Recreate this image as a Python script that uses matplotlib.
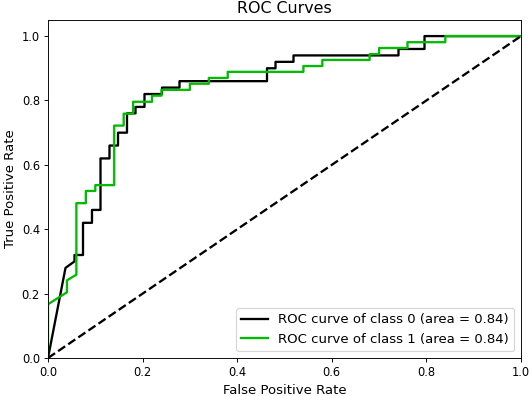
import matplotlib
matplotlib.use('Agg')
import matplotlib.pyplot as plt

# ROC curve points (fpr, tpr)
class0_fpr = [0.0, 0.037, 0.056, 0.056, 0.074, 0.074, 0.093, 0.093, 0.111, 0.111,
              0.130, 0.130, 0.148, 0.148, 0.167, 0.167, 0.185, 0.185, 0.204, 0.204,
              0.241, 0.241, 0.278, 0.278, 0.463, 0.463, 0.481, 0.481, 0.519, 0.519,
              0.741, 0.741, 0.796, 0.796, 1.0]
class0_tpr = [0.0, 0.28, 0.30, 0.32, 0.32, 0.42, 0.42, 0.46, 0.46, 0.62,
              0.62, 0.66, 0.66, 0.70, 0.70, 0.76, 0.76, 0.78, 0.78, 0.82,
              0.82, 0.84, 0.84, 0.86, 0.86, 0.90, 0.90, 0.92, 0.92, 0.94,
              0.94, 0.96, 0.96, 1.0, 1.0]

class1_fpr = [0.0, 0.0, 0.04, 0.04, 0.06, 0.06, 0.08, 0.08, 0.10, 0.10,
              0.14, 0.14, 0.16, 0.16, 0.18, 0.18, 0.22, 0.22, 0.24, 0.24,
              0.30, 0.30, 0.34, 0.34, 0.38, 0.38, 0.54, 0.54, 0.58, 0.58,
              0.68, 0.68, 0.70, 0.70, 0.76, 0.76, 0.84, 0.84, 1.0]
class1_tpr = [0.0, 0.167, 0.204, 0.241, 0.259, 0.481, 0.481, 0.519, 0.519, 0.537,
              0.537, 0.722, 0.722, 0.759, 0.759, 0.796, 0.796, 0.815, 0.815, 0.833,
              0.833, 0.852, 0.852, 0.870, 0.870, 0.889, 0.889, 0.907, 0.907, 0.926,
              0.926, 0.944, 0.944, 0.963, 0.963, 0.981, 0.981, 1.0, 1.0]

class_areas = [0.84, 0.84]

DPI = 83
plt.rcParams['font.size'] = 11.5
fig = plt.figure(figsize=(532 / DPI, 396 / DPI), dpi=DPI)
ax = fig.add_axes([48 / 532, 38 / 396, 473 / 532, 338 / 396])

cmap = plt.get_cmap('nipy_spectral')
curves = [(class0_fpr, class0_tpr), (class1_fpr, class1_tpr)]
for i, (fpr, tpr) in enumerate(curves):
    ax.plot(fpr, tpr, lw=2, color=cmap(float(i) / len(curves)),
            label=f'ROC curve of class {i} (area = {class_areas[i]:0.2f})')

ax.plot([0, 1], [0, 1], 'k--', lw=2)
ax.set_xlim([0.0, 1.0])
ax.set_ylim([0.0, 1.05])
ax.set_title('ROC Curves')
ax.set_xlabel('False Positive Rate')
ax.set_ylabel('True Positive Rate')
ax.tick_params(labelsize=10)
ax.legend(loc='lower right')

fig.savefig('out.png', dpi=DPI)
